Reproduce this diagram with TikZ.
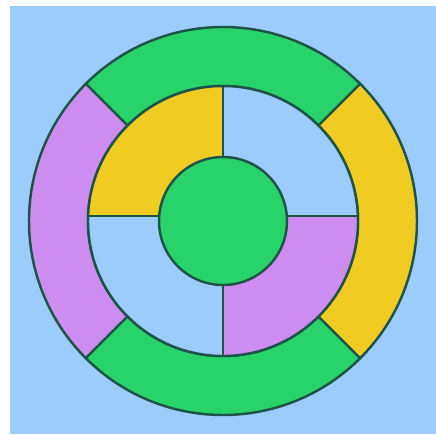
\documentclass[tikz,border=0pt]{standalone}
\usepackage{xcolor}
\usepackage{tikz}
\usetikzlibrary{calc}

\definecolor{skyblue}{RGB}{156,204,252}
\definecolor{ringgreen}{RGB}{40,212,106}
\definecolor{ringyellow}{RGB}{240,204,34}
\definecolor{ringviolet}{RGB}{204,140,240}
\definecolor{edgeteal}{RGB}{30,84,72}

\begin{document}
\begin{tikzpicture}[x=0.02cm,y=0.02cm,
    outline/.style={draw=edgeteal,line width=1.4pt,line join=round}]
  % picture frame, white strip left and top
  \useasboundingbox (-223,-213) rectangle (213,221);
  \fill[skyblue] (-213,-213) rectangle (213,215);
  % outer ring, four sectors
  \filldraw[outline,fill=ringgreen]  (45:194) arc (45:135:194) -- (135:135) arc (135:45:135) -- cycle;
  \filldraw[outline,fill=ringviolet] (135:194) arc (135:225:194) -- (225:135) arc (225:135:135) -- cycle;
  \filldraw[outline,fill=ringgreen]  (225:194) arc (225:315:194) -- (315:135) arc (315:225:135) -- cycle;
  \filldraw[outline,fill=ringyellow] (315:194) arc (315:405:194) -- (405:135) arc (405:315:135) -- cycle;
  % inner ring, quadrants
  \fill[skyblue] (0,0) circle (135);
  \begin{scope}
    \clip (-140,5) rectangle (0,140);
    \fill[ringyellow] (0,0) circle (135);
  \end{scope}
  \begin{scope}
    \clip (0,5) rectangle (140,-140);
    \fill[ringviolet] (0,0) circle (135);
  \end{scope}
  \draw[outline] (0,0) circle (135);
  \draw[outline] (-135,5) -- (135,5);
  \draw[outline] (0,-135) -- (0,135);
  % centre disc
  \filldraw[outline,fill=ringgreen] (0,0) circle (64);
\end{tikzpicture}
\end{document}
